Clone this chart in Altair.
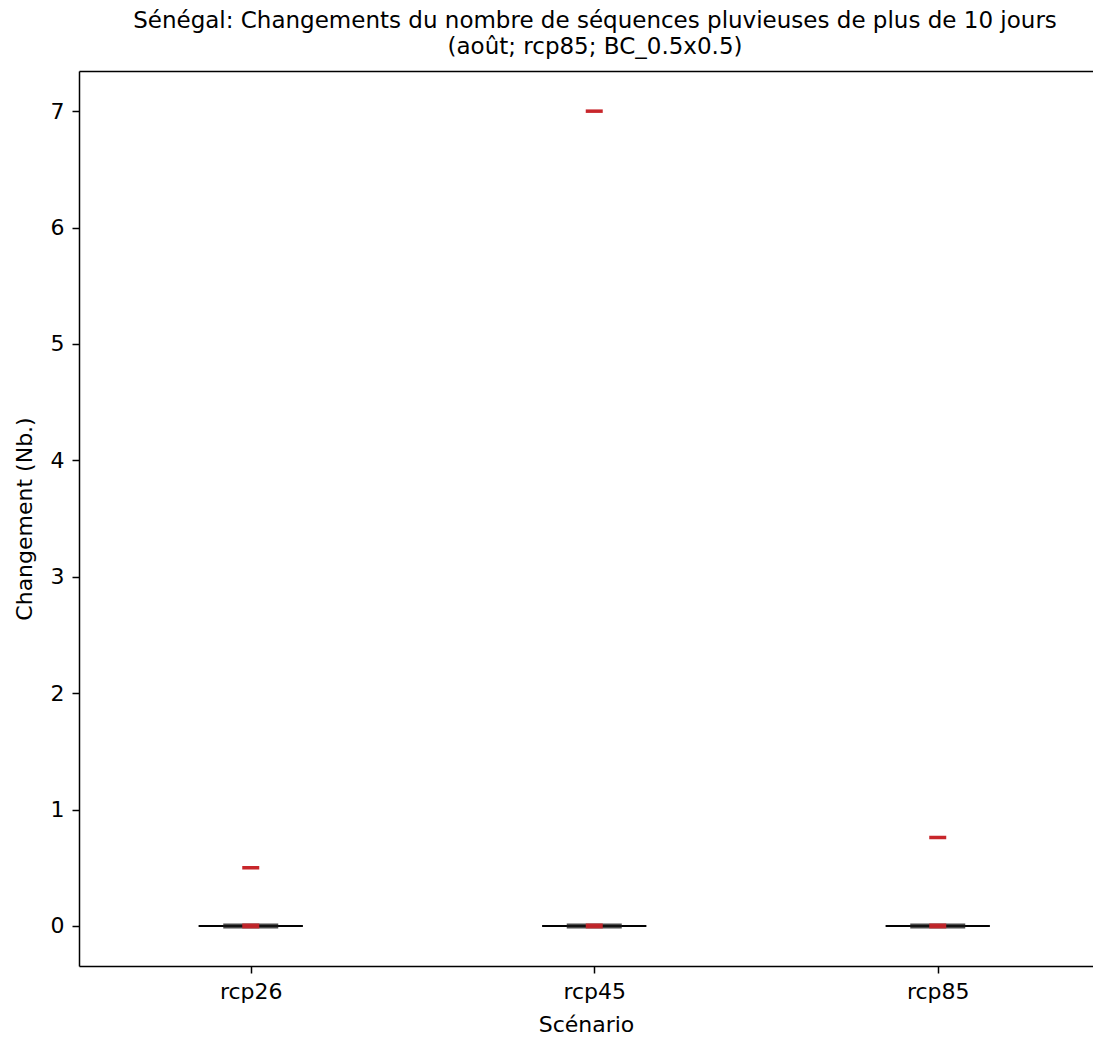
import altair as alt
import pandas as pd

# Data
scenarios = ["rcp26", "rcp45", "rcp85"]
positions = [0, 1, 2]
whisker_low = [0.0, 0.0, 0.0]
q1 = [0.0, 0.0, 0.0]
median = [0.0, 0.0, 0.0]
q3 = [0.0, 0.0, 0.0]
whisker_high = [0.0, 0.0, 0.0]
means = [0.0, 0.0, 0.0]
outlier_pos = [0, 1, 2]
outlier_vals = [0.5, 7.0, 0.76]
y_ticks = [0, 1, 2, 3, 4, 5, 6, 7]

FONT = "DejaVu Sans"
FS = 22
RED = "#c8262b"

box_df = pd.DataFrame({
    "pos": positions, "scenario": scenarios, "lo": whisker_low, "q1": q1,
    "med": median, "q3": q3, "hi": whisker_high, "mean": means,
})
out_df = pd.DataFrame({"pos": outlier_pos, "value": outlier_vals})

label_expr = "datum.value == 0 ? 'rcp26' : datum.value == 1 ? 'rcp45' : 'rcp85'"
x_scale = alt.Scale(domain=[-0.5, 2.452], nice=False, zero=False)
x_enc = alt.X(
    "pos:Q",
    scale=x_scale,
    axis=alt.Axis(
        orient="bottom", title="Scénario", values=positions, labelExpr=label_expr,
        tickSize=7, tickWidth=1.5, labelPadding=8, titlePadding=12,
        grid=False, domain=True, domainColor="black", domainWidth=1.5,
        labelFlush=False, labelOverlap=False,
    ),
)
x_plain = alt.X("pos:Q", axis=None)
y_scale = alt.Scale(domain=[-0.344, 7.345], nice=False, zero=False)
y_axis = alt.Axis(
    title="Changement (Nb.)", values=y_ticks, format="d", tickSize=7,
    tickWidth=1.5, labelPadding=8, titlePadding=14, grid=False,
    domain=True, domainColor="black", domainWidth=1.5,
)

base = alt.Chart(box_df)

whisk = base.mark_tick(size=104, thickness=2, color="black", opacity=0.9, orient="horizontal").encode(
    x=x_enc, y=alt.Y("lo:Q", scale=y_scale, axis=y_axis)
)
whisk_hi = base.mark_tick(size=104, thickness=2, color="black", opacity=0.9, orient="horizontal").encode(
    x=x_plain, y=alt.Y("hi:Q")
)
box = base.mark_tick(size=55, thickness=5, color="#2a2a2a", opacity=0.85, orient="horizontal").encode(
    x=x_plain, y=alt.Y("q1:Q")
)
box_top = base.mark_tick(size=55, thickness=2, color="#111111", opacity=0.9, orient="horizontal").encode(
    x=x_plain, y=alt.Y("q3:Q")
)
mean_mark = base.mark_tick(size=17, thickness=5, color=RED, opacity=0.95, orient="horizontal").encode(
    x=x_plain, y=alt.Y("mean:Q")
)
outl = alt.Chart(out_df).mark_tick(size=17, thickness=3.5, color=RED, opacity=1, orient="horizontal").encode(
    x=x_plain, y=alt.Y("value:Q")
)
# top frame line drawn as a second x axis (domain only)
top_frame = alt.Chart(out_df).mark_point(opacity=0).encode(
    x=alt.X("pos:Q", axis=alt.Axis(
        orient="top", title=None, labels=False, ticks=False, grid=False,
        domain=True, domainColor="black", domainWidth=1.5,
    )),
    y=alt.Y("value:Q"),
)

chart = alt.layer(whisk, whisk_hi, box, box_top, mean_mark, outl, top_frame).resolve_axis(
    x="independent"
).properties(
    width=1014,
    height=895,
    autosize=alt.AutoSizeParams(type="none"),
    padding={"left": 71, "top": 63, "right": 0, "bottom": 70},
    title=alt.TitleParams(
        text=["Sénégal: Changements du nombre de séquences pluvieuses de plus de 10 jours",
              "(août; rcp85; BC_0.5x0.5)"],
        font=FONT, fontSize=23, fontWeight="normal", color="black",
        anchor="middle", frame="group", lineHeight=26, offset=12, dx=9,
    ),
).configure_view(
    stroke=None
).configure_axis(
    labelFont=FONT, titleFont=FONT, labelFontSize=FS, titleFontSize=FS,
    labelColor="black", titleColor="black", tickColor="black",
    titleFontWeight="normal",
)

chart.save("out.html", embed_options={"renderer": "svg", "actions": False})
